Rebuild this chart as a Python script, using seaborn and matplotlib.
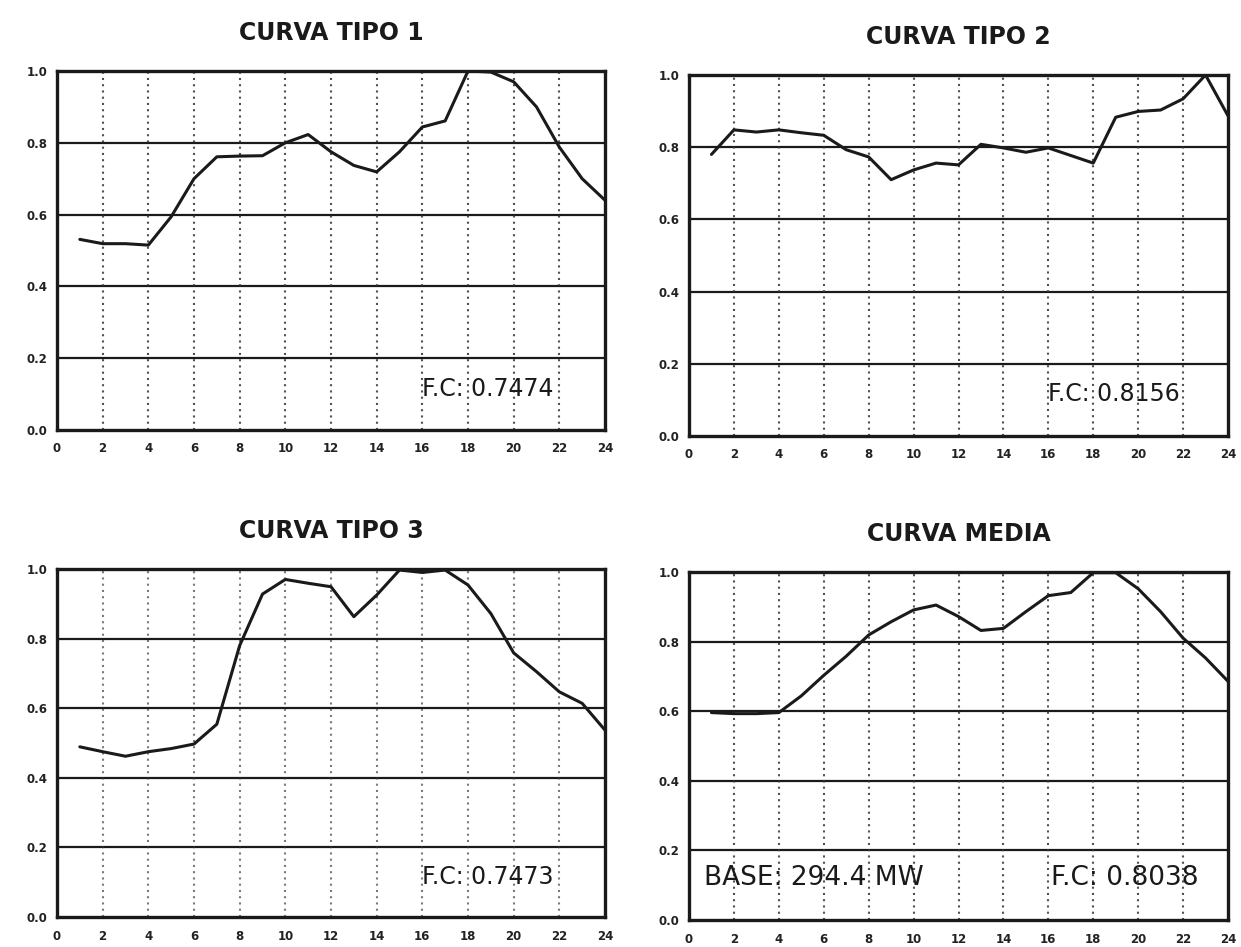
import matplotlib
matplotlib.use("Agg")
import matplotlib.pyplot as plt
import seaborn as sns
import pandas as pd
import numpy as np

hours = list(range(1, 25))

tipo1 = [0.531, 0.519, 0.519, 0.515, 0.594, 0.700, 0.761, 0.763, 0.764, 0.800, 0.823, 0.775,
         0.737, 0.719, 0.775, 0.844, 0.861, 1.000, 0.997, 0.970, 0.900, 0.788, 0.700, 0.640]
tipo2 = [0.780, 0.848, 0.842, 0.848, 0.840, 0.833, 0.793, 0.773, 0.710, 0.737, 0.756, 0.751,
         0.808, 0.798, 0.786, 0.798, 0.777, 0.756, 0.883, 0.899, 0.903, 0.934, 1.000, 0.887]
tipo3 = [0.489, 0.475, 0.462, 0.475, 0.484, 0.497, 0.554, 0.780, 0.928, 0.970, 0.959, 0.949,
         0.863, 0.925, 0.997, 0.990, 0.997, 0.954, 0.872, 0.759, 0.705, 0.647, 0.614, 0.537]
media = [0.596, 0.593, 0.593, 0.596, 0.644, 0.703, 0.758, 0.819, 0.857, 0.891, 0.905, 0.872,
         0.832, 0.838, 0.886, 0.932, 0.941, 0.998, 0.998, 0.952, 0.886, 0.810, 0.753, 0.686]

titles = ["CURVA TIPO 1", "CURVA TIPO 2", "CURVA TIPO 3", "CURVA MEDIA"]
fc_labels = ["F.C: 0.7474", "F.C: 0.8156", "F.C: 0.7473", "F.C: 0.8038"]
base_label = "BASE: 294.4 MW"
x_ticks = list(range(0, 25, 2))
y_ticks = [0.0, 0.2, 0.4, 0.6, 0.8, 1.0]
y_ticklabels = ["0.0", "0.2", "0.4", "0.6", "0.8", "1.0"]

sns.set_style("white")
plt.rcParams['font.family'] = ['DejaVu Sans']

W, H = 1241, 947
fig = plt.figure(figsize=(W / 100, H / 100), dpi=100)

# pixel boxes: left, right, top, bottom
boxes = [(57, 605, 71, 430), (689, 1228, 75, 436), (57, 605, 569, 917), (689, 1228, 572, 920)]
series = [tipo1, tipo2, tipo3, media]

for i, (box, vals) in enumerate(zip(boxes, series)):
    l, r, t, b = box
    ax = fig.add_axes([l / W, (H - b) / H, (r - l) / W, (b - t) / H])
    df = pd.DataFrame({"hora": hours, "valor": vals})
    sns.lineplot(data=df, x="hora", y="valor", ax=ax, color="#1a1a1a", linewidth=2.2)
    ax.set_xlim(0, 24)
    ax.set_ylim(0, 1.0)
    ax.set_xticks(x_ticks)
    ax.set_xticklabels([str(v) for v in x_ticks], fontsize=8.5, fontweight="bold", color="#222222")
    ax.set_yticks(y_ticks)
    ax.set_yticklabels(y_ticklabels, fontsize=8.5, fontweight="bold", color="#222222")
    ax.tick_params(axis="x", length=0, pad=9)
    ax.tick_params(axis="y", length=0, pad=7)
    ax.set_xlabel("")
    ax.set_ylabel("")
    for yv in y_ticks[1:-1]:
        ax.axhline(yv, color="#1a1a1a", linewidth=1.6, zorder=1)
    for xv in x_ticks[1:-1]:
        ax.axvline(xv, color="#333333", linewidth=1.5, linestyle=(0, (1, 2)), zorder=1,
                   alpha=0.65 if i == 2 else 0.85)
    for s in ax.spines.values():
        s.set_linewidth(2.4)
        s.set_color("#1a1a1a")
    ax.set_title(titles[i], fontsize=17, fontweight="bold", pad=22, color="#1a1a1a")
    if i < 3:
        ax.text(16.0, 0.115, fc_labels[i], fontsize=17, va="center", ha="left", color="#1a1a1a")
    else:
        ax.text(0.65, 0.12, base_label, fontsize=19, va="center", ha="left", color="#1a1a1a")
        ax.text(16.1, 0.12, fc_labels[i], fontsize=19, va="center", ha="left", color="#1a1a1a")

fig.savefig("out.png", dpi=100)
